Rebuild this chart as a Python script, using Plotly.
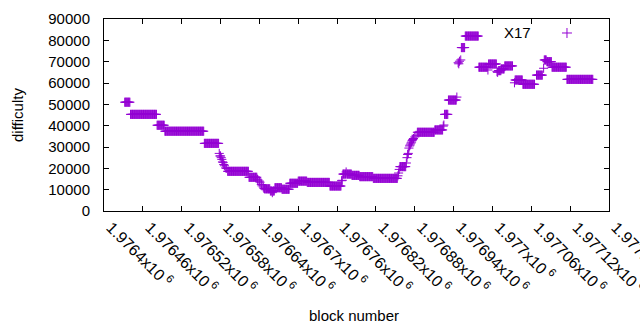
import plotly.graph_objects as go

# Difficulty runs: block offset from 1976400 (start, end inclusive) and value
run_start = [32, 41, 82, 94, 155,
             178, 179, 180, 181, 182, 183, 184, 185, 186, 188, 189,
             191, 224,
             237, 238, 240, 241, 243, 244, 246, 247,
             248, 257, 260, 261, 264, 275, 287, 300, 314, 349,
             367, 368, 369, 374, 375, 383, 395, 416,
             454, 455, 456, 457,
             467, 468, 469, 470, 471, 472, 473, 474, 475, 476, 477, 478, 480, 482,
             484, 511, 524, 525, 526, 532, 545,
             547, 548, 549, 551, 552, 558, 579, 593, 594, 607, 608, 609, 614, 619,
             634, 635, 647, 668, 679, 680, 684, 692, 715]
run_end = [40, 81, 93, 154, 177,
           178, 179, 180, 181, 182, 183, 184, 185, 186, 188, 189,
           223, 236,
           237, 238, 240, 241, 243, 244, 246, 247,
           256, 259, 260, 263, 274, 286, 299, 313, 348, 366,
           367, 368, 373, 374, 382, 394, 415, 453,
           454, 455, 456, 466,
           467, 468, 469, 470, 471, 472, 473, 474, 475, 476, 477, 478, 480, 482,
           510, 523, 524, 525, 531, 544, 545,
           547, 548, 549, 551, 557, 578, 592, 593, 606, 607, 608, 613, 618, 631,
           634, 646, 665, 677, 679, 683, 691, 714, 755]
run_value = [51000, 45300, 40200, 37400, 31700,
             27000, 25800, 25800, 25000, 24200, 23000, 22800, 21800, 21200, 20200, 20000,
             18600, 15800,
             14900, 14500, 14000, 13500, 12400, 11800, 11200, 10600,
             10400, 9400, 8600, 9400, 10900, 10200, 13000, 14000, 13400, 11700,
             14200, 14400, 17300, 18300, 17300, 16700, 16100, 15300,
             16500, 17800, 19500, 20800,
             22500, 25000, 26500, 27000, 29500, 30500, 31000, 31800, 32300, 33000, 33500, 34000, 34700, 35500,
             36900, 38000, 39800, 40300, 45300, 52000, 53400,
             69500, 69000, 70200, 70800, 76600, 82000, 67400, 66100, 68900, 65300, 65000, 65800, 66600, 68000,
             60100, 61400, 59400, 63700, 66900, 70800, 70000, 67400, 61700]

block_base = 1976400

x_tick_values = [1976400, 1976460, 1976520, 1976580, 1976640, 1976700, 1976760,
                 1976820, 1976880, 1976940, 1977000, 1977060, 1977120, 1977180]
x_tick_mantissa = ["1.9764", "1.97646", "1.97652", "1.97658", "1.97664", "1.9767", "1.97676",
                   "1.97682", "1.97688", "1.97694", "1.977", "1.97706", "1.97712", "1.97718"]
x_tick_text = [m + "x10\u2009<sup>6</sup>" for m in x_tick_mantissa]
y_tick_values = [0, 10000, 20000, 30000, 40000, 50000, 60000, 70000, 80000, 90000]

blocks, diffs = [], []
for s, e, v in zip(run_start, run_end, run_value):
    for b in range(s, e + 1):
        blocks.append(block_base + b)
        diffs.append(v)

color = "#9400D3"
FONT = "Liberation Sans, Arial, sans-serif"

fig = go.Figure()
fig.add_trace(go.Scatter(
    x=blocks, y=diffs, mode="markers", name="X17",
    marker=dict(symbol="cross-thin", size=6.5, color=color,
                line=dict(color=color, width=1)),
    showlegend=False, hoverinfo="skip",
))

axis_common = dict(showline=True, linecolor="black", linewidth=1, mirror="allticks",
                   ticks="inside", ticklen=5, tickcolor="black", showgrid=False,
                   zeroline=False, automargin=False)

fig.update_xaxes(range=[1976400, 1977180], tickmode="array", tickvals=x_tick_values,
                 ticktext=x_tick_text, tickangle=45, ticklabeloverflow="allow",
                 ticklabelshift=7,
                 tickfont=dict(family=FONT, size=16, color="black"), **axis_common)
fig.update_yaxes(range=[0, 90000], tickmode="array", tickvals=y_tick_values,
                 ticktext=[str(v) for v in y_tick_values], ticklabelstandoff=10,
                 tickfont=dict(family=FONT, size=15, color="black"), **axis_common)

fig.update_layout(
    width=640, height=330,
    margin=dict(l=104, r=31, t=19, b=119, autoexpand=False),
    paper_bgcolor="white", plot_bgcolor="white",
    font=dict(family=FONT, size=15, color="black"),
    annotations=[
        dict(text="difficulty", xref="paper", yref="paper", x=-0.1723, y=0.5,
             textangle=-90, showarrow=False, xanchor="center", yanchor="middle",
             font=dict(family=FONT, size=15)),
        dict(text="block number", xref="paper", yref="paper", x=0.495, y=-0.5417,
             showarrow=False, xanchor="center", yanchor="middle",
             font=dict(family=FONT, size=15)),
        dict(text="X17", xref="paper", yref="paper", x=0.8495, y=0.932,
             showarrow=False, xanchor="right", yanchor="middle",
             font=dict(family=FONT, size=15)),
    ],
    shapes=[
        dict(type="line", xref="paper", yref="paper", x0=0.9069, x1=0.9267, y0=0.9271, y1=0.9271,
             line=dict(color=color, width=1)),
        dict(type="line", xref="paper", yref="paper", x0=0.9168, x1=0.9168, y0=0.9010, y1=0.9531,
             line=dict(color=color, width=1)),
    ],
)

fig.write_html("out.html", config={"displayModeBar": False},
               post_script="document.body.style.margin='0';")
